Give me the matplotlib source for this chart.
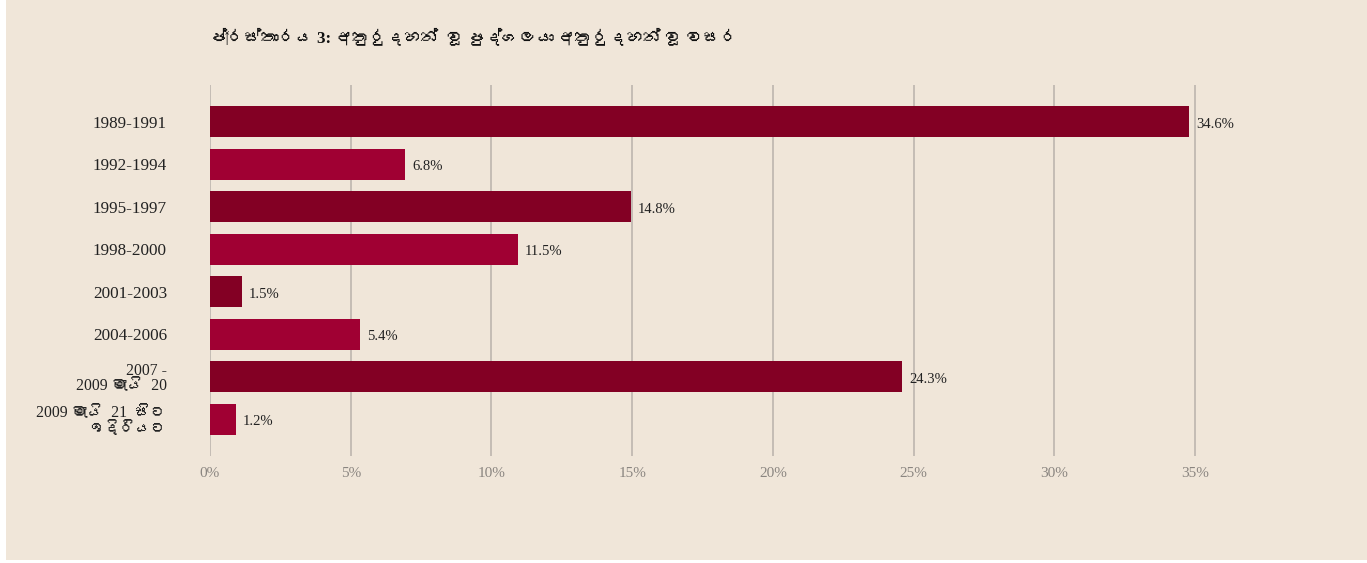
import matplotlib
matplotlib.use("Agg")
import matplotlib.pyplot as plt
from matplotlib import font_manager
from matplotlib.patches import Rectangle
from matplotlib.ft2font import FT2Font

# ---- data ----
categories = ["1989-1991", "1992-1994", "1995-1997", "1998-2000", "2001-2003",
              "2004-2006", "2007 -\n2009 මැයි  20", "2009 මැයි  21  සිට\nඉදිරියට"]
bar_values = [34.78, 6.93, 14.95, 10.94, 1.14, 5.33, 24.58, 0.92]
value_labels = ["34.6%", "6.8%", "14.8%", "11.5%", "1.5%", "5.4%", "24.3%", "1.2%"]
x_ticks = [0, 5, 10, 15, 20, 25, 30, 35]
x_tick_labels = ["0%", "5%", "10%", "15%", "20%", "25%", "30%", "35%"]
title = "ප්‍රස්තාරය 3: අතුරුදහන්  වූ පුද්ගලයා අතුරුදහන් වූ වසර"

# ---- find a font with Sinhala glyphs, if any ----
sinhala = []
for f in font_manager.fontManager.ttflist:
    try:
        cm = FT2Font(f.fname).get_charmap()
        if 0x0D9A in cm and f.name not in sinhala:
            sinhala.append(f.name)
    except Exception:
        pass
serif_fam = ["Liberation Serif"] + sinhala + ["DejaVu Sans"]
title_fam = ["Liberation Serif"] + sinhala + ["DejaVu Sans"]

bg = "#F0E6D9"
dark = "#830024"
light = "#A00033"

fig = plt.figure(figsize=(13.67, 5.63), dpi=100)
fig.patch.set_facecolor("white")
fig.add_artist(Rectangle((6 / 1367, 3 / 563), 1 - 6 / 1367, 1 - 3 / 563,
                         transform=fig.transFigure, facecolor=bg,
                         edgecolor="none", zorder=-10))

xmax = 35.3
ppu = 28.15
left = 210 / 1367
right = (210 + xmax * ppu) / 1367
ax = fig.add_axes([left, 1 - 456 / 563, right - left, (456 - 85) / 563])
ax.set_facecolor("none")

y = list(range(len(categories)))
colors = [dark if i % 2 == 0 else light for i in y]
ax.barh(y, bar_values, height=0.73, color=colors, zorder=3)
for yi, v, lab in zip(y, bar_values, value_labels):
    ax.text(v + 0.25, yi + 0.05, lab, va="center", ha="left", fontsize=10.5,
            color="#222222", family=serif_fam, zorder=4)

ax.set_xlim(0, xmax)
ax.set_ylim(7.86, -0.87)
ax.set_xticks(x_ticks)
ax.set_xticklabels(x_tick_labels, family=serif_fam, fontsize=11, color="#8a8580")
ax.set_yticks(y)
ax.set_yticklabels(categories, family=serif_fam, fontsize=12.3, color="#222222",
                   linespacing=0.95)
for t in ax.get_yticklabels():
    if "\n" in t.get_text():
        t.set_fontsize(11.3)
ax.tick_params(axis="y", length=0, pad=31)
ax.tick_params(axis="x", length=0, pad=8)
ax.grid(axis="x", color="#BDB5AE", linewidth=1.2, zorder=0)
for s in ax.spines.values():
    s.set_visible(False)

fig.text(210 / 1367, 1 - 37 / 563, title, ha="left", va="center",
         fontsize=12.3, fontweight="bold", color="#111111", family=title_fam)

fig.savefig("out.png", dpi=100, facecolor=fig.get_facecolor())
